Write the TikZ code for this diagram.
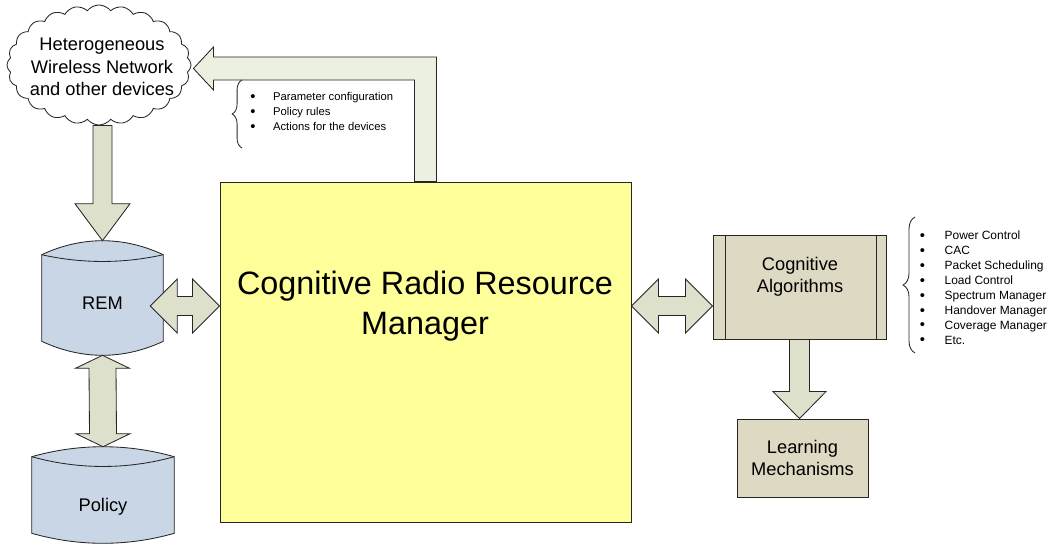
\documentclass[tikz,border=0pt]{standalone}
\usepackage{fontspec}
\setmainfont{Liberation Sans}
\usetikzlibrary{calc,shapes.symbols,decorations.pathreplacing,backgrounds}

\definecolor{rrmyellow}{RGB}{255,255,153}
\definecolor{dbblue}{RGB}{201,214,229}
\definecolor{algtan}{RGB}{221,217,195}
\definecolor{arrowgreen}{RGB}{221,225,204}
\definecolor{arrowpale}{RGB}{236,240,224}

\newcommand{\lbul}{\raisebox{-0.5pt}{\fontsize{10.5}{0}\selectfont\textbullet}}

% database drum: #1 node, #2 drop of the rim, #3 inner rim control
\newcommand{\dbdrum}[3]{%
  \draw[line,fill=dbblue] ($(#1.north west)+(0,#2)$)
    .. controls ($(#1.north west)!0.33!(#1.north east)+(0,-#2/3)$) and ($(#1.north east)!0.33!(#1.north west)+(0,-#2/3)$) .. ($(#1.north east)+(0,#2)$)
    -- ($(#1.south east)+(0,-#2)$)
    .. controls ($(#1.south east)!0.33!(#1.south west)+(0,#2/3)$) and ($(#1.south west)!0.33!(#1.south east)+(0,#2/3)$) .. ($(#1.south west)+(0,-#2)$)
    -- cycle;
  \draw[line] ($(#1.north west)+(0,#2)$)
    .. controls ($(#1.north west)!0.33!(#1.north east)+(0,#3)$) and ($(#1.north east)!0.33!(#1.north west)+(0,#3)$) .. ($(#1.north east)+(0,#2)$);}

% fat down arrow: #1 start, #2 tip, #3 head length, #4 half head, #5 half shaft
\newcommand{\fatdown}[5]{%
  \draw[fatarrow] (#2) -- ++(-#4,-#3) -- ++(#4-#5,0) -- ($(#1)+(-#5,0)$)
    -- ++(2*#5,0) -- ($(#2)+(#5,-#3)$) -- ++(#4-#5,0) -- cycle;}

% fat double arrow, left tip #1, right tip #2
\newcommand{\fatdouble}[2]{%
  \draw[fatarrow] (#1) -- ++(27,-27) -- ++(0,17.5) -- ($(#2)+(-27,-9.5)$) -- ++(0,-17.5)
    -- (#2) -- ++(-27,27) -- ++(0,-17.5) -- ($(#1)+(27,9.5)$) -- ++(0,17.5) -- cycle;}

\begin{document}
\begin{tikzpicture}[x=0.025cm,y=-0.025cm,
  line/.style={draw=black!85,line width=0.6pt},
  fatarrow/.style={line,fill=arrowgreen,line join=miter},
  bigbox/.style={line,fill=rrmyellow,minimum width=10.275cm,minimum height=8.5cm},
  algbox/.style={line,fill=algtan,inner sep=0pt,align=center,font=\fontsize{13}{16}\selectfont},
  drumbox/.style={inner sep=0pt},
  txt/.style={align=center,inner sep=0pt,font=\fontsize{13}{16}\selectfont},
  listtext/.style={align=left,inner sep=0pt,anchor=west},
  bracket/.style={line,decorate}]

  \useasboundingbox (0,0) rectangle (1052,554);

  % nodes
  \node[cloud,cloud puffs=24,cloud puff arc=105,line,fill=white,
        minimum width=4.6cm,minimum height=3cm,inner sep=0pt] (net) at (99,65) {};
  \node[txt] (netlabel) at (102,67) {Heterogeneous\\Wireless Network\\and other devices};

  \node[bigbox] (crrm) at (425.5,352) {};
  \node[txt,font=\fontsize{23}{28.5}\selectfont] (crrmlabel) at (425,306) {Cognitive Radio Resource\\Manager};

  \node[drumbox,minimum width=3.025cm,minimum height=2.85cm] (rem) at (102.5,298) {};
  \node[txt] (remlabel) at ($(rem)+(0,5)$) {REM};
  \node[drumbox,minimum width=3.55cm,minimum height=2.4cm] (policy) at (103,495) {};
  \node[txt] (policylabel) at ($(policy)+(0,12)$) {Policy};

  \node[algbox,minimum width=4.325cm,minimum height=2.6cm] (cogalg) at (799.5,287) {};
  \draw[line] ($(cogalg.north west)+(13,0)$) -- ($(cogalg.south west)+(13,0)$);
  \draw[line] ($(cogalg.north east)+(-10,0)$) -- ($(cogalg.south east)+(-10,0)$);
  \node[txt] (cogalglabel) at (800,277) {Cognitive\\Algorithms};

  \node[algbox,minimum width=3.275cm,minimum height=1.95cm] (learn) at (802.5,458) {Learning\\Mechanisms};

  % bullet lists
  \node[listtext,font=\fontsize{8}{10.7}\selectfont] (outlist) at (250,112)
    {\lbul\hspace{12.5pt}Parameter configuration\\
     \lbul\hspace{12.5pt}Policy rules\\
     \lbul\hspace{12.5pt}Actions for the devices};
  \draw[bracket,decoration={brace,amplitude=7pt}] (242,148) -- (242,80);

  \node[listtext,font=\fontsize{8.5}{10.6}\selectfont] (alglist) at (919.5,288)
    {\lbul\hspace{14pt}Power Control\\
     \lbul\hspace{14pt}CAC\\
     \lbul\hspace{14pt}Packet Scheduling\\
     \lbul\hspace{14pt}Load Control\\
     \lbul\hspace{14pt}Spectrum Manager\\
     \lbul\hspace{14pt}Handover Manager\\
     \lbul\hspace{14pt}Coverage Manager\\
     \lbul\hspace{14pt}Etc.};
  \draw[bracket,decoration={brace,amplitude=8.5pt}] (915,353) -- (915,217);

  % arrow ends
  \coordinate (remtip) at ($(rem.east |- crrmlabel)+(-13,0)$);
  \coordinate (crrmleft) at (crrm.west |- crrmlabel);
  \coordinate (crrmright) at (crrm.east |- crrmlabel);
  \coordinate (algleft) at (cogalg.west |- crrmlabel);
  \coordinate (nettip) at ($(net.east)+(2,3.5)$);
  \coordinate (bend) at (crrm.north |- nettip);
  \coordinate (netfoot) at (rem.north |- net.south);
  \coordinate (learntop) at (cogalg.south |- learn.north);

  \begin{scope}[on background layer]
    \dbdrum{rem}{14}{23}
    \dbdrum{policy}{10}{23}
    \fatdown{netfoot}{rem.north}{37}{27.5}{9.5}
    \fatdown{cogalg.south}{learntop}{27}{26.5}{10}
    \fatdouble{remtip}{crrmleft}
    \fatdouble{crrmright}{algleft}
    \draw[fatarrow] (rem.south) -- ++(27,13) -- ++(-13.5,0) -- ($(policy.north)+(13.5,-13)$)
      -- ++(13.5,0) -- (policy.north) -- ++(-27,-13) -- ++(13.5,0)
      -- ($(rem.south)+(-13.5,13)$) -- ++(-13.5,0) -- cycle;
    \draw[fatarrow,fill=arrowpale] (nettip) -- ++(20,-21.5) -- ++(0,10) -- ($(bend)+(11,-11.5)$)
      -- ($(crrm.north)+(11,0)$) -- ++(-22,0) -- ($(bend)+(-11,11.5)$)
      -- ($(nettip)+(20,11.5)$) -- ++(0,10) -- cycle;
  \end{scope}
\end{tikzpicture}
\end{document}
